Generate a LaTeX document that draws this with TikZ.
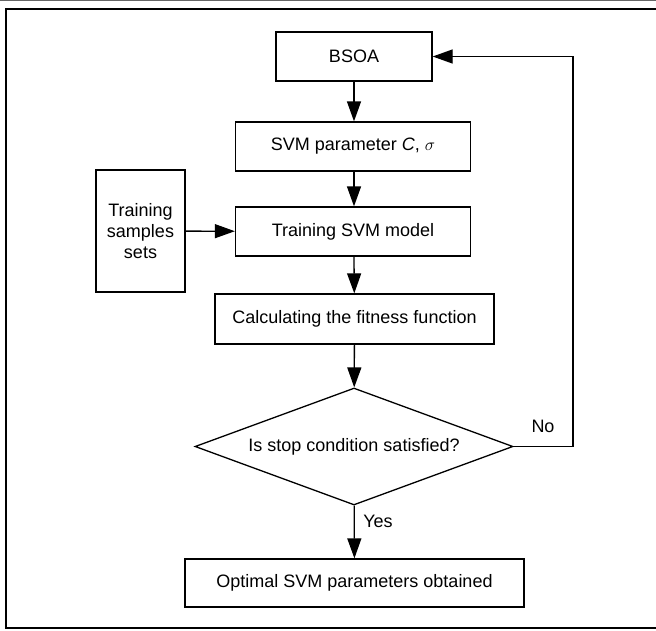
\documentclass[tikz,border=0pt]{standalone}
\usepackage{fontspec}
\setmainfont{Liberation Sans}
\usetikzlibrary{shapes.geometric,arrows.meta}
\colorlet{edge}{black}
\colorlet{rim}{black!60}
\tikzset{
    step box/.style={draw=edge,line width=1.3pt,inner sep=0pt,align=center},
    test box/.style={draw=edge,line width=1.3pt,shape=diamond,aspect=2.72,inner sep=0pt,
        minimum width=318pt,minimum height=117pt},
    flow/.style={edge,line width=1.3pt,-{Triangle[length=20pt,width=14pt]}}
}

\begin{document}
\begin{tikzpicture}[x=1pt,y=-1pt,font=\fontsize{18pt}{21pt}\selectfont]
        \useasboundingbox (0,0) rectangle (656,630);
        % page frame
        \draw [rim,line width=1pt] (0,0.5) -- (656,0.5);
        \draw [black,line width=2.2pt] (664,9) -- (6,9) -- (6,628) -- (664,628);
        % boxes
        \node [step box,minimum width=156pt,minimum height=49pt] (bsoa) at (354,56.5) {BSOA};
        \node [step box,minimum width=235pt,minimum height=49pt] (param) at (353,146.5)
            {SVM parameter \textit{C}, $\sigma$};
        \node [step box,minimum width=235pt,minimum height=49pt] (train) at (353,231.5)
            {Training SVM model};
        \node [step box,minimum width=89pt,minimum height=122pt] (samples) at (140.5,231)
            {Training\\samples\\sets};
        \node [step box,minimum width=279pt,minimum height=50pt] (fitness) at (354.5,319)
            {Calculating the fitness function};
        \node [test box] (stop) at (354,446.5) {Is stop condition satisfied?};
        \node [step box,minimum width=339pt,minimum height=48pt] (best) at (354.5,583)
            {Optimal SVM parameters obtained};
        \coordinate (back) at (573,446.5);
        % arrows
        \draw [flow] (bsoa) -- (bsoa |- param.north);
        \draw [flow] (bsoa |- param.south) -- (bsoa |- train.north);
        \draw [flow] (samples) -- (train);
        \draw [flow] (bsoa |- train.south) -- (fitness);
        \draw [flow] (fitness) -- (stop);
        \draw [flow] (stop) -- node [pos=0.3,right,xshift=5pt] (yes) {Yes} (best);
        \draw [flow] (stop.east) -- (back) -- (back |- bsoa) -- (bsoa);
        \node (no) at (543,426) {No};
    \end{tikzpicture}
\end{document}
